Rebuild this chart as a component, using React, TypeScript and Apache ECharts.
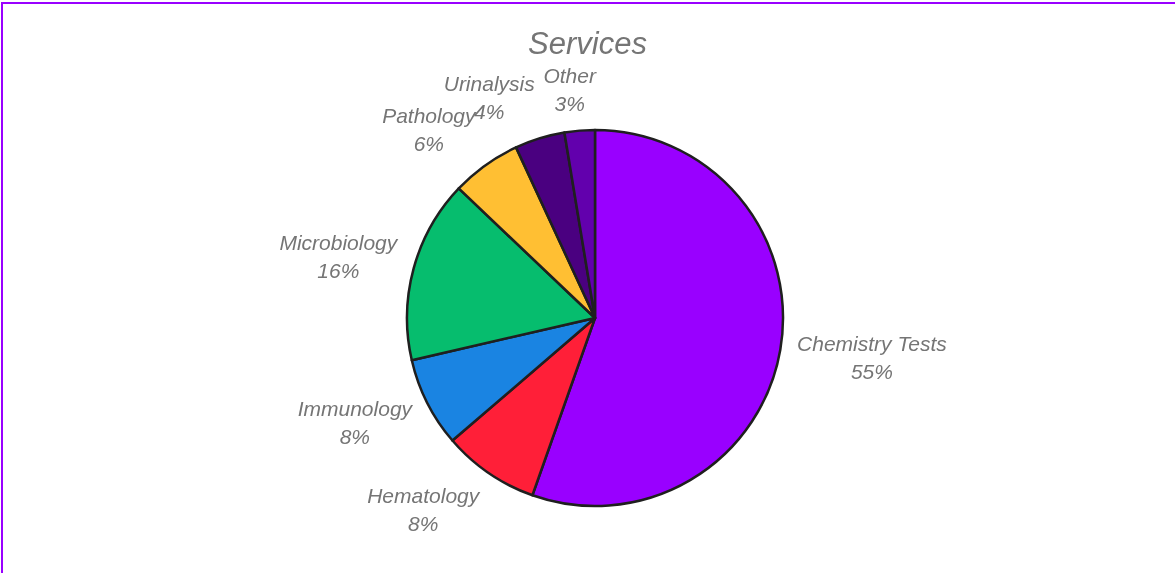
import React, { useEffect, useRef } from "react";
import * as echarts from "echarts";

const categories = ["Chemistry Tests", "Hematology", "Immunology", "Microbiology", "Pathology", "Urinalysis", "Other"];
const values = [55.4, 8.3, 7.7, 15.7, 6.0, 4.3, 2.6];
const colors = ["#9900ff", "#ff1f38", "#1a84e2", "#06bd6e", "#ffbf33", "#4a0080", "#6200ad"];

const CX = 595;
const CY = 318;
const R = 188;
const LABEL_GAP = 17;

function clamp(v: number) {
  return Math.max(-1, Math.min(1, v));
}

export default function App() {
  const ref = useRef<HTMLDivElement>(null);
  useEffect(() => {
    if (!ref.current) return;
    const chart = echarts.init(ref.current, null, { renderer: "svg" });
    const total = values.reduce((a, b) => a + b, 0);
    const cum: number[] = [];
    let acc = 0;
    values.forEach((v) => {
      cum.push(acc + v / 2);
      acc += v;
    });
    chart.setOption({
      animation: false,
      backgroundColor: "transparent",
      title: {
        text: "Services",
        left: "center",
        top: 23,
        textStyle: {
          fontFamily: "Liberation Sans",
          fontStyle: "italic",
          fontWeight: "normal",
          fontSize: 31,
          color: "#757575",
        },
      },
      series: [
        {
          type: "pie",
          center: [CX, CY],
          radius: [0, R],
          startAngle: 90,
          clockwise: true,
          percentPrecision: 0,
          avoidLabelOverlap: false,
          data: categories.map((c, i) => ({ name: c, value: values[i], itemStyle: { color: colors[i] } })),
          itemStyle: { borderColor: "#1f1f1f", borderWidth: 2.5 },
          label: {
            show: true,
            position: "outside",
            formatter: "{a|{b}}\n{a|{d}%}",
            rich: {
              a: {
                fontFamily: "Liberation Sans",
                fontStyle: "italic",
                fontSize: 21,
                color: "#757575",
                lineHeight: 28,
                align: "center",
              },
            },
          },
          labelLine: { show: false },
          labelLayout: (params: any) => {
            const i = params.dataIndex;
            const theta = (cum[i] / total) * Math.PI * 2;
            const dx = Math.sin(theta);
            const dy = -Math.cos(theta);
            const rr = R + LABEL_GAP;
            const px = CX + dx * rr;
            const py = CY + dy * rr;
            const w = params.labelRect.width;
            const h = params.labelRect.height;
            return {
              x: px + (w / 2) * clamp(4 * dx),
              y: py + (h / 2) * clamp(1.1 * dy),
              align: "center",
              verticalAlign: "middle",
              hideOverlap: false,
            };
          },
          emphasis: { disabled: true },
        },
      ],
    });
    return () => chart.dispose();
  }, []);
  return (
    <>
      <div
        style={{
          position: "fixed",
          left: 1,
          top: 2,
          width: 1400,
          height: 800,
          border: "2px solid #9900ff",
          boxSizing: "border-box",
          pointerEvents: "none",
        }}
      />
      <div ref={ref} style={{ position: "fixed", left: 0, top: 0, width: 1175, height: 573 }} />
    </>
  );
}
